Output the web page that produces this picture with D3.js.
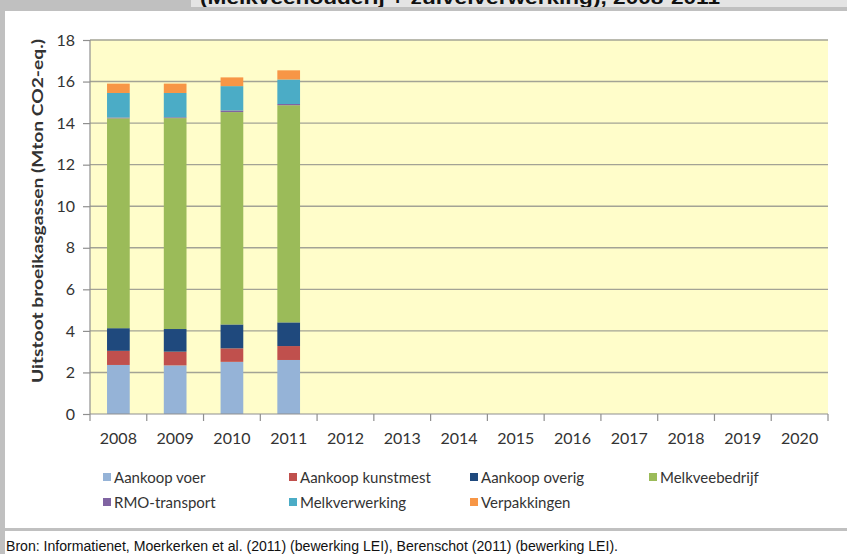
<!DOCTYPE html>
<html>
<head>
<meta charset="utf-8">
<script src="https://cdn.jsdelivr.net/npm/d3@7"></script>
<style>
  html, body { margin: 0; padding: 0; background: #c0c0c0; }
  svg { display: block; }
</style>
</head>
<body>
<div id="chart"></div>
<script>
const years = ["2008","2009","2010","2011","2012","2013","2014","2015","2016","2017","2018","2019","2020"];
const seriesNames = ["Aankoop voer","Aankoop kunstmest","Aankoop overig","Melkveebedrijf","RMO-transport","Melkverwerking","Verpakkingen"];
const seriesColors = ["#95b3d7","#c0504d","#1f497d","#9bbb59","#8064a2","#4bacc6","#f79646"];
// values per series, for 2008..2011 (later years empty)
const aankoopVoer      = [2.36, 2.34, 2.51, 2.60];
const aankoopKunstmest = [0.68, 0.66, 0.65, 0.67];
const aankoopOverig    = [1.09, 1.09, 1.15, 1.14];
const melkveebedrijf   = [10.10, 10.15, 10.22, 10.45];
const rmoTransport     = [0.04, 0.04, 0.08, 0.06];
const melkverwerking   = [1.18, 1.17, 1.17, 1.18];
const verpakkingen     = [0.45, 0.45, 0.42, 0.44];
const yTicks = [0,2,4,6,8,10,12,14,16,18];

const W = 847, H = 554;
const margin = {left: 90, right: 19, top: 40, bottom: 140};

const svg = d3.select("#chart").append("svg").attr("width", W).attr("height", H);

// panels
svg.append("rect").attr("x", 0).attr("y", 0).attr("width", W).attr("height", H).attr("fill", "#c0c0c0");
svg.append("rect").attr("x", 191).attr("y", 0).attr("width", W - 191).attr("height", 7).attr("fill", "#e4e4e4");
svg.append("clipPath").attr("id", "titleClip")
  .append("rect").attr("x", 191).attr("y", 0).attr("width", W - 191).attr("height", 7);
// title sits mostly above the crop, as in the source picture
svg.append("text")
  .attr("clip-path", "url(#titleClip)")
  .attr("x", 200).attr("y", 4)
  .attr("font-family", "Liberation Sans, Arial, sans-serif")
  .attr("font-weight", "bold").attr("font-size", 18)
  .attr("textLength", 520).attr("lengthAdjust", "spacingAndGlyphs")
  .attr("fill", "#111")
  .text("(Melkveehouderij + zuivelverwerking), 2008-2011");
svg.append("rect").attr("x", 5).attr("y", 11).attr("width", W - 5).attr("height", 517).attr("fill", "#fff");
svg.append("rect").attr("x", 5).attr("y", 531).attr("width", W - 5).attr("height", H - 531).attr("fill", "#fff");

const x0 = margin.left, x1 = W - margin.right;
const yTop = 40, yBot = 414;

const x = d3.scaleBand().domain(years).range([x0, x1]).paddingInner(0.6).paddingOuter(0.3);
const xCat = d3.scaleBand().domain(years).range([x0, x1]);
const y = d3.scaleLinear().domain([0, 18]).range([yBot, yTop]);

const font = "Lato, 'Open Sans', sans-serif";

// plot area
svg.append("rect").attr("x", x0).attr("y", yTop).attr("width", x1 - x0).attr("height", yBot - yTop).attr("fill", "#fffdca");

// gridlines
svg.append("g").selectAll("line").data(yTicks.filter(d => d > 0)).join("line")
  .attr("x1", x0).attr("x2", x1)
  .attr("y1", d => y(d)).attr("y2", d => y(d))
  .attr("stroke", "#a3a395").attr("stroke-width", 1.4);

// stacked data
const valueRows = [aankoopVoer, aankoopKunstmest, aankoopOverig, melkveebedrijf, rmoTransport, melkverwerking, verpakkingen];
const table = years.map((yr, i) => {
  const row = {year: yr};
  seriesNames.forEach((s, j) => { row[s] = valueRows[j][i] !== undefined ? valueRows[j][i] : 0; });
  return row;
});
const stacked = d3.stack().keys(seriesNames)(table);

svg.append("g").selectAll("g").data(stacked).join("g")
  .attr("fill", (d, i) => seriesColors[i])
  .selectAll("rect").data(d => d.filter(p => p[1] - p[0] > 0)).join("rect")
  .attr("x", d => x(d.data.year))
  .attr("width", x.bandwidth())
  .attr("y", d => y(d[1]))
  .attr("height", d => y(d[0]) - y(d[1]));

// y axis
const yAxis = svg.append("g").attr("transform", `translate(${x0},0)`)
  .call(d3.axisLeft(y).tickValues(yTicks).tickSize(7).tickPadding(8));
yAxis.select(".domain").attr("stroke", "#8f8f8f").attr("stroke-width", 1.2).attr("d", `M0,${yTop}V${yBot}`);
yAxis.selectAll(".tick line").attr("stroke", "#8f8f8f").attr("stroke-width", 1.2);
yAxis.selectAll(".tick text").attr("font-family", font).attr("font-size", 16).attr("fill", "#333");

// x axis
const xg = svg.append("g").attr("transform", `translate(0,${yBot})`);
xg.append("line").attr("x1", x0).attr("x2", x1).attr("stroke", "#8f8f8f").attr("stroke-width", 1.2);
xg.selectAll(".cattick").data(years.concat(["end"])).join("line")
  .attr("class", "cattick")
  .attr("x1", d => d === "end" ? x1 : xCat(d)).attr("x2", d => d === "end" ? x1 : xCat(d))
  .attr("y1", 0).attr("y2", 7)
  .attr("stroke", "#8f8f8f").attr("stroke-width", 1.2);
xg.selectAll(".catlabel").data(years).join("text")
  .attr("class", "catlabel")
  .attr("x", d => xCat(d) + xCat.bandwidth() / 2)
  .attr("y", 30)
  .attr("text-anchor", "middle")
  .attr("font-family", font).attr("font-size", 16).attr("fill", "#333")
  .text(d => d);

// y title
svg.append("text")
  .attr("transform", `translate(43,${(yTop + yBot) / 2 - 16}) rotate(-90)`)
  .attr("text-anchor", "middle")
  .attr("font-family", font).attr("font-weight", "bold").attr("font-size", 16).attr("fill", "#333")
  .attr("textLength", 344).attr("lengthAdjust", "spacingAndGlyphs")
  .text("Uitstoot broeikasgassen (Mton CO2-eq.)");

// legend
const legendCols = [103, 289, 470, 649];
const legendRows = [477, 502];
const legend = svg.append("g").selectAll("g").data(seriesNames).join("g")
  .attr("transform", (d, i) => `translate(${legendCols[i % 4]},${legendRows[Math.floor(i / 4)]})`);
legend.append("rect").attr("x", 0).attr("y", -4).attr("width", 8).attr("height", 8)
  .attr("fill", (d, i) => seriesColors[i]);
legend.append("text").attr("x", 11).attr("y", 5.5)
  .attr("font-family", font).attr("font-size", 15).attr("fill", "#333")
  .text(d => d);

// source
svg.append("text")
  .attr("x", 6).attr("y", 551)
  .attr("font-family", "'Liberation Sans Narrow', 'Liberation Sans', Arial, sans-serif")
  .attr("font-size", 14).attr("fill", "#111")
  .attr("textLength", 612).attr("lengthAdjust", "spacingAndGlyphs")
  .text("Bron: Informatienet, Moerkerken et al. (2011) (bewerking LEI), Berenschot (2011) (bewerking LEI).");
</script>
</body>
</html>
